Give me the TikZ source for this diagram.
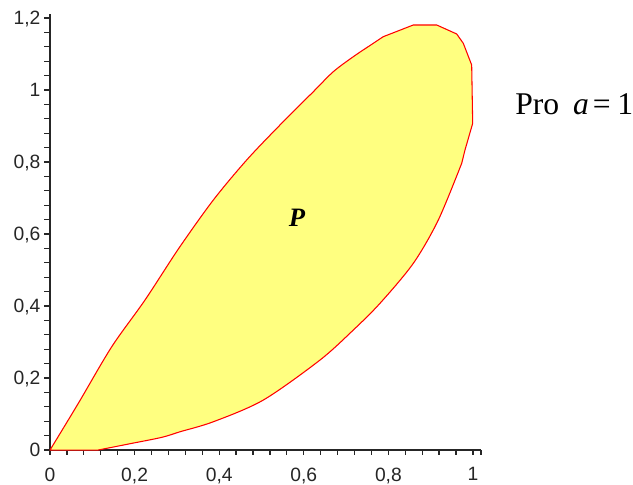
\documentclass[tikz,border=0pt]{standalone}
\usepackage{fontspec}
\setmainfont{Liberation Serif}
\setsansfont{Liberation Sans}
\usetikzlibrary{positioning}
\definecolor{regionfill}{RGB}{255,255,128}

\begin{document}
\begin{tikzpicture}[x=11.19cm, y=9.525cm, font=\sffamily\fontsize{14.5}{16}\selectfont,
    every node/.style={inner sep=0pt},
    axisline/.style={line width=1pt, black!85},
    tickmark/.style={line width=0.9pt, black!85},
    ticklab/.style={text depth=0pt, text=black!85}]
  \useasboundingbox (-0.1182,-0.0944) rectangle (1.3783,1.25);
  % axes
  \coordinate (o) at (0,0);
  \coordinate (xend) at (1.019,0);
  \coordinate (yend) at (0,1.21);
  \draw[axisline] (o) -- (xend);
  \draw[axisline] (o) -- (yend);
  \foreach \i in {0,...,25} \draw[tickmark] (\i*0.04,0) -- ++(0,-3.8pt);
  \draw[tickmark] (xend) -- ++(0,-3.8pt);
  \foreach \i in {0,...,30} \draw[tickmark] (0,\i*0.04) -- ++(-4.5pt,0);
  \foreach \v/\t [count=\k] in {0/0,0.2/{0,2},0.4/{0,4},0.6/{0,6},0.8/{0,8},1/1}
    \node[ticklab,anchor=north] (xlab\k) at ([yshift=-13pt]\v,0) {\t};
  \foreach \v/\t [count=\k] in {0/0,0.2/{0,2},0.4/{0,4},0.6/{0,6},0.8/{0,8},1/1,1.2/{1,2}}
    \node[ticklab,anchor=east] (ylab\k) at ([xshift=-7pt]0,\v) {\t};
  % region P
  \filldraw[fill=regionfill, draw=red, line width=0.8pt, line join=round]
    plot[smooth] coordinates {(0,0) (0.0669,0.1297) (0.1459,0.2869) (0.2246,0.4167)
      (0.3050,0.5611) (0.3861,0.6944) (0.4650,0.8056) (0.5437,0.9028) (0.6225,0.9953)
      (0.6697,1.0508) (0.7170,1.0925) (0.7643,1.1297) (0.7879,1.1481)}
    -- (0.8589,1.1806) -- (0.9142,1.1806) -- (0.9615,1.1556) -- (0.9771,1.1297)
    -- (0.9969,1.0694) -- (0.9993,0.9075) -- (0.9811,0.8333)
    -- plot[smooth] coordinates {(0.9733,0.7964) (0.9180,0.6389) (0.8589,0.5186)
      (0.7801,0.4075) (0.7170,0.3333) (0.6383,0.2500) (0.5043,0.1389) (0.3861,0.0786)
      (0.3073,0.0508) (0.2641,0.0353) (0.1851,0.0167) (0.1135,0)}
    -- cycle;
  \node[font=\rmfamily\bfseries\itshape\fontsize{20}{24}\selectfont] (plab) at (0.584,0.644) {P};
  % parameter
  \node[anchor=base west, font=\rmfamily\fontsize{23.8}{28}\selectfont] (param) at (1.0993,0.9306)
    {Pro\hspace{10.5pt}\textit{a}\hspace{3pt}=\hspace{5pt}1};
\end{tikzpicture}
\end{document}
